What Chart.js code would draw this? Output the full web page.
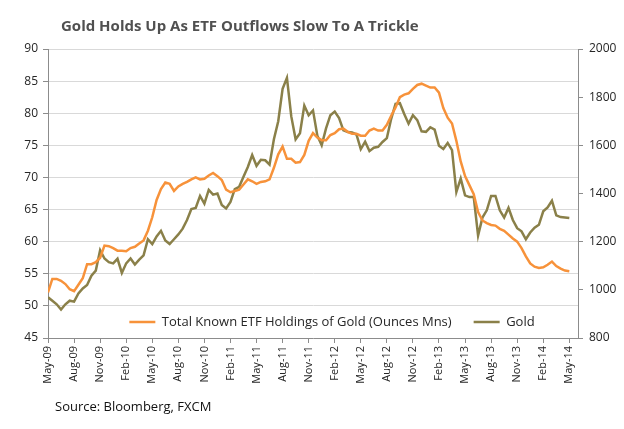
<!DOCTYPE html>
<html>
<head>
<meta charset="utf-8">
<script src="https://cdn.jsdelivr.net/npm/chart.js@4.4.1/dist/chart.umd.min.js"></script>
<style>
  html, body { margin: 0; padding: 0; background: #fff; }
  #wrap { position: relative; width: 624px; height: 429px; overflow: hidden; }
  #chart { position: absolute; left: 0; top: 0; }
  #title { position: absolute; left: 61px; top: 15px; font: bold 15px 'Open Sans', sans-serif; color: #505050; white-space: nowrap; }
  #source { position: absolute; left: 55px; top: 397px; font: 13px 'Open Sans', sans-serif; color: #111; white-space: nowrap; }
</style>
</head>
<body>
<div id="wrap">
  <canvas id="chart" width="624" height="429"></canvas>
  <div id="title">Gold Holds Up As ETF Outflows Slow To A Trickle</div>
  <div id="source">Source: Bloomberg, FXCM</div>
</div>
<script>
// quarterly tick labels, one every 3 months starting May-09
const tickLabels = ['May-09', 'Aug-09', 'Nov-09', 'Feb-10', 'May-10', 'Aug-10', 'Nov-10', 'Feb-11',
  'May-11', 'Aug-11', 'Nov-11', 'Feb-12', 'May-12', 'Aug-12', 'Nov-12', 'Feb-13',
  'May-13', 'Aug-13', 'Nov-13', 'Feb-14', 'May-14'];

// half-monthly readings, May-09 .. May-14
const etfHoldings = [
  52.1, 54.2, 54.2, 53.9, 53.4, 52.6, 52.3, 53.3, 54.3, 56.5,
  56.5, 56.8, 57.5, 59.4, 59.3, 59.0, 58.6, 58.6, 58.5, 59.0,
  59.2, 59.7, 60.2, 61.7, 63.8, 66.5, 68.2, 69.2, 69.0, 67.9,
  68.6, 69.0, 69.3, 69.7, 70.0, 69.7, 69.8, 70.3, 70.7, 70.2,
  69.6, 68.1, 67.7, 67.9, 68.1, 68.9, 69.7, 69.4, 69.0, 69.3,
  69.4, 69.7, 71.5, 73.6, 74.8, 72.9, 72.9, 72.3, 72.4, 73.5,
  75.7, 76.9, 76.2, 75.8, 75.8, 76.6, 76.9, 77.5, 77.6, 77.1,
  76.8, 76.8, 76.5, 76.5, 77.3, 77.6, 77.3, 77.3, 78.2, 79.6,
  80.9, 82.5, 82.9, 83.1, 83.8, 84.4, 84.6, 84.3, 84.0, 84.0,
  83.2, 80.8, 79.3, 78.4, 75.7, 72.5, 70.2, 68.8, 67.4, 64.6,
  63.3, 62.9, 62.6, 62.5, 62.0, 61.7, 61.1, 60.5, 60.0, 59.0,
  57.7, 56.6, 56.1, 55.9, 56.0, 56.4, 56.9, 56.2, 55.8, 55.5,
  55.4
];

const goldPrice = [
  969, 955, 940, 918, 940, 955, 951, 985, 1006, 1020,
  1059, 1080, 1165, 1130, 1115, 1110, 1129, 1070, 1110, 1130,
  1105, 1125, 1143, 1210, 1190, 1222, 1245, 1205, 1190, 1210,
  1230, 1254, 1290, 1335, 1340, 1390, 1358, 1415, 1395, 1400,
  1352, 1338, 1365, 1418, 1428, 1470, 1510, 1560, 1515, 1540,
  1538, 1520, 1625, 1700, 1835, 1880, 1720, 1625, 1650, 1765,
  1725, 1745, 1640, 1600, 1670, 1725, 1740, 1713, 1662, 1655,
  1653, 1645, 1584, 1615, 1576, 1590, 1594, 1614, 1630, 1710,
  1772, 1775, 1730, 1690, 1725, 1705, 1658, 1656, 1675, 1665,
  1598, 1585, 1610, 1580, 1406, 1462, 1392, 1385, 1385, 1225,
  1300, 1330, 1390, 1390, 1330, 1300, 1340, 1290, 1256, 1243,
  1210, 1238, 1258, 1270, 1326, 1342, 1370, 1309, 1302, 1300,
  1298
];

const STEP = 0.5; // months between readings
const toPoints = (arr) => arr.map((v, i) => ({ x: i * STEP, y: v }));

Chart.defaults.font.family = "'Open Sans', sans-serif";
Chart.defaults.color = '#262626';

const AXIS = '#8c8c8c';
const LEGEND_PAD = 22;
const LEGEND_FONT = 13;

// legend is laid out on top (horizontal), then moved inside the plot near the bottom
const legendPlacer = {
  id: 'legendPlacer',
  afterLayout(chart) {
    const lg = chart.legend;
    if (!lg) return;
    const h = lg.height;
    lg.top = 322 - LEGEND_PAD - LEGEND_FONT / 2;
    lg.bottom = lg.top + h;
    lg.left += 20;
    lg.right += 20;
  }
};

const ctx = document.getElementById('chart').getContext('2d');
new Chart(ctx, {
  type: 'line',
  data: {
    datasets: [
      {
        label: 'Total Known ETF Holdings of Gold (Ounces Mns)',
        data: toPoints(etfHoldings),
        borderColor: '#f7923a',
        backgroundColor: '#f7923a',
        borderWidth: 2.5,
        pointRadius: 0,
        tension: 0,
        yAxisID: 'y',
      },
      {
        label: 'Gold',
        data: toPoints(goldPrice),
        borderColor: '#8a8049',
        backgroundColor: '#8a8049',
        borderWidth: 2.5,
        pointRadius: 0,
        tension: 0,
        yAxisID: 'y1',
      },
    ],
  },
  options: {
    responsive: false,
    animation: false,
    // legend box takes 45px at the top, so plot top lands at 49
    layout: { padding: { top: 4, left: 0, right: 0, bottom: 0 } },
    scales: {
      x: {
        type: 'linear',
        min: 0,
        max: 61,
        afterBuildTicks: (s) => { s.ticks = tickLabels.map((_, i) => ({ value: i * 3 })); },
        afterFit: (s) => { s.height = 91; },
        grid: { drawOnChartArea: false, tickLength: 5, color: AXIS },
        border: { color: AXIS },
        ticks: {
          autoSkip: false,
          minRotation: 90,
          maxRotation: 90,
          padding: 3,
          font: { size: 11 },
          callback: (v, i) => tickLabels[i],
        },
      },
      y: {
        position: 'left',
        min: 45,
        max: 90,
        afterFit: (s) => { s.width = 48; },
        ticks: { stepSize: 5, padding: 5, font: { size: 12 } },
        grid: { color: '#d9d9d9', tickLength: 5, tickColor: AXIS },
        border: { color: AXIS },
      },
      y1: {
        position: 'right',
        min: 800,
        max: 2000,
        afterFit: (s) => { s.width = 46; },
        ticks: { stepSize: 200, padding: 6, font: { size: 12 }, callback: (v) => String(v) },
        grid: { drawOnChartArea: false, tickLength: 5, color: AXIS },
        border: { color: AXIS },
      },
    },
    plugins: {
      legend: {
        position: 'top',
        labels: {
          usePointStyle: true,
          pointStyle: 'line',
          pointStyleWidth: 26,
          padding: LEGEND_PAD,
          font: { size: LEGEND_FONT },
          color: '#262626',
        },
      },
      tooltip: { enabled: false },
    },
  },
  plugins: [legendPlacer],
});
</script>
</body>
</html>
